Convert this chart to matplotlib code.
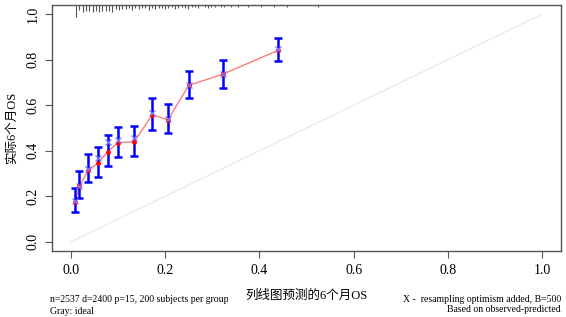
import numpy as np
from matplotlib import pyplot as plt

plt.rcParams['font.family'] = ['Liberation Serif', 'Noto Sans CJK SC']

# 校准曲线数据
pred = [0.009, 0.018, 0.037, 0.058, 0.078, 0.100, 0.134, 0.173, 0.206, 0.250, 0.322, 0.440]
apparent = [0.175, 0.244, 0.314, 0.347, 0.396, 0.436, 0.439, 0.558, 0.536, 0.687, 0.736, 0.841]
corrected = [0.180, 0.246, 0.318, 0.369, 0.437, 0.448, 0.457, 0.564, 0.540, 0.690, 0.738, 0.845]
lower = [0.132, 0.192, 0.261, 0.286, 0.335, 0.374, 0.376, 0.493, 0.479, 0.630, 0.677, 0.796]
upper = [0.235, 0.311, 0.386, 0.416, 0.468, 0.505, 0.510, 0.633, 0.604, 0.750, 0.797, 0.894]

# 顶部预测值分布 (rug)
rug_x = [0.011, 0.018, 0.025, 0.032, 0.039, 0.046, 0.053, 0.060, 0.067, 0.074,
         0.081, 0.088, 0.095, 0.102, 0.109, 0.116, 0.123, 0.130, 0.137, 0.144,
         0.151, 0.158, 0.165, 0.172, 0.179, 0.186, 0.193, 0.200, 0.207, 0.214,
         0.221, 0.228, 0.235, 0.242, 0.249, 0.256, 0.263, 0.270, 0.284, 0.291,
         0.298, 0.305, 0.319, 0.326, 0.340, 0.354, 0.375, 0.403, 0.431, 0.459, 0.525]
rug_h = [12, 5, 7, 6, 6, 7, 6, 7, 6, 6,
         6, 7, 4, 5, 4, 4, 3, 5, 3, 4,
         3, 3, 5, 3, 4, 3, 3, 4, 3, 2,
         4, 3, 2, 3, 4, 2, 2, 3, 2, 3,
         2, 2, 2, 2, 2, 2, 2, 2, 2, 2, 2]

ticks = [0.0, 0.2, 0.4, 0.6, 0.8, 1.0]
tick_labels = ["0.0", "0.2", "0.4", "0.6", "0.8", "1.0"]

W, H = 566, 317
fig = plt.figure(figsize=(W / 100, H / 100), dpi=100)
ax = fig.add_axes([52 / W, 1 - 251 / H, (561 - 52) / W, (251 - 5) / H])

ax.set_xlim(-0.04, 1.04)
ax.set_ylim(-0.04, 1.04)

# ideal
ax.plot([0, 1], [0, 1], color="#ebebeb", lw=1, zorder=1)

# rug
ax.vlines(rug_x, 1.04 - np.array(rug_h) / 227, 1.04, color="#555555", lw=0.8, zorder=2)

# apparent line + points
ax.plot(pred, apparent, color="#ff7070", lw=0.9, zorder=2)
ax.errorbar(pred, apparent, yerr=[np.array(apparent) - np.array(lower),
                                  np.array(upper) - np.array(apparent)],
            fmt="none", ecolor="#0000ff", elinewidth=1.8, capsize=3, capthick=1.8, zorder=3)
ax.plot(pred, apparent, "o", color="#ff0000", ms=3.5, mec="none", zorder=4)
ax.plot(pred, corrected, "x", color="#7a7aff", ms=5, mew=0.9, zorder=5)

for s in ax.spines.values():
    s.set_color("#555555")
    s.set_linewidth(1)

ax.set_xticks(ticks)
ax.set_xticklabels(tick_labels, fontsize=10)
ax.set_yticks(ticks)
ax.set_yticklabels(tick_labels, fontsize=10, rotation=90, va="center")
ax.tick_params(length=5, width=0.8, color="#555555", pad=4)

fig.text(12 / W, 1 - 128 / H, "实际6个月OS", rotation=90, ha="center", va="center", fontsize=9)
fig.text(306 / W, 1 - 296 / H, "列线图预测的6个月OS", ha="center", va="center", fontsize=9)

fig.text(50 / W, 1 - 300 / H, "n=2537 d=2400 p=15, 200 subjects per group", ha="left", va="center", fontsize=7)
fig.text(50 / W, 1 - 311 / H, "Gray: ideal", ha="left", va="center", fontsize=7)
fig.text(561 / W, 1 - 299 / H, "X -  resampling optimism added, B=500", ha="right", va="center", fontsize=7)
fig.text(561 / W, 1 - 310 / H, "Based on observed-predicted", ha="right", va="center", fontsize=7)

fig.savefig("out.png", dpi=100)
